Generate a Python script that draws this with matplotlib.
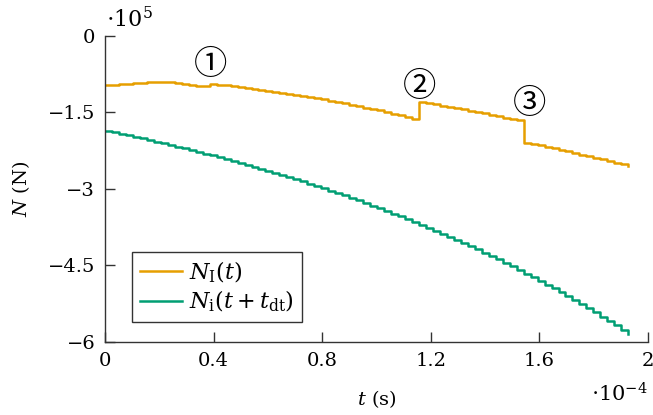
import numpy as np
import matplotlib.pyplot as plt

plt.rcParams['font.family'] = ['DejaVu Serif', 'DejaVu Sans']
plt.rcParams['mathtext.fontset'] = 'dejavuserif'
plt.rcParams['font.size'] = 14

# time grid (units of 1e-4 s), values in units of 1e5 N
dt = 0.0257
n_pts = 76
t = np.arange(n_pts) * dt

N_I = [-0.970, -0.960, -0.950, -0.940, -0.930, -0.920, -0.910, -0.903, -0.900, -0.908,
       -0.923, -0.940, -0.957, -0.973, -0.990,
       -0.940, -0.954, -0.969, -0.984, -1.000, -1.017, -1.034, -1.052, -1.071, -1.090,
       -1.110, -1.131, -1.152, -1.174, -1.197, -1.221, -1.245, -1.269, -1.295, -1.321,
       -1.347, -1.375, -1.403, -1.432, -1.461, -1.491, -1.522, -1.553, -1.585, -1.618,
       -1.290, -1.314, -1.339, -1.364, -1.389, -1.414, -1.440, -1.466, -1.492, -1.519,
       -1.546, -1.573, -1.601, -1.629, -1.657,
       -2.090, -2.118, -2.147, -2.176, -2.205, -2.234, -2.264, -2.294, -2.324, -2.355,
       -2.386, -2.417, -2.449, -2.481, -2.513, -2.546]

N_i = [-1.860, -1.889, -1.918, -1.948, -1.978, -2.009, -2.040, -2.071, -2.103, -2.135,
       -2.168, -2.202, -2.235, -2.270, -2.305, -2.340, -2.376, -2.412, -2.449, -2.487,
       -2.525, -2.564, -2.603, -2.643, -2.684, -2.725, -2.767, -2.810, -2.853, -2.897,
       -2.942, -2.987, -3.033, -3.080, -3.127, -3.175, -3.225, -3.274, -3.325, -3.376,
       -3.428, -3.481, -3.535, -3.590, -3.645, -3.702, -3.759, -3.817, -3.876, -3.936,
       -3.997, -4.058, -4.121, -4.185, -4.249, -4.315, -4.381, -4.449, -4.517, -4.587,
       -4.657, -4.729, -4.801, -4.875, -4.950, -5.026, -5.103, -5.181, -5.260, -5.340,
       -5.421, -5.504, -5.587, -5.672, -5.758, -5.845]

marks = ['\u2460', '\u2461', '\u2462']
mark_t = [0.387, 1.157, 1.565]
mark_N = [-0.55, -1.0, -1.32]

xticks = [0, 0.4, 0.8, 1.2, 1.6, 2]
xtick_labels = ['0', '0.4', '0.8', '1.2', '1.6', '2']
yticks = [0, -1.5, -3, -4.5, -6]
ytick_labels = ['0', '\u22121.5', '\u22123', '\u22124.5', '\u22126']

orange = '#E69F00'
green = '#009E73'

fig = plt.figure(figsize=(6.53, 4.15), dpi=100)
ax = fig.add_axes([0.1608, 0.1759, 0.8315, 0.7374])

ax.plot(t, N_I, drawstyle='steps-post', color=orange, lw=1.8,
        label=r'$N_{\mathrm{I}}(t)$')
ax.plot(t, N_i, drawstyle='steps-post', color=green, lw=1.8,
        label=r'$N_{\mathrm{i}}(t + t_{\mathrm{dt}})$')

for m, mx, my in zip(marks, mark_t, mark_N):
    ax.text(mx, my, m, ha='center', va='center', fontsize=24,
            family=['Noto Sans CJK JP', 'DejaVu Sans'])

ax.set_xlim(0, 2)
ax.set_ylim(-6, 0)
ax.set_xticks(xticks)
ax.set_xticklabels(xtick_labels)
ax.set_yticks(yticks)
ax.set_yticklabels(ytick_labels)

for s in ['top', 'right']:
    ax.spines[s].set_visible(False)
for s in ['left', 'bottom']:
    ax.spines[s].set_color('#333333')
    ax.spines[s].set_linewidth(1.0)
ax.tick_params(direction='in', length=7, width=1.0, color='#333333', pad=7)

ax.set_xlabel(r'$t$ (s)')
ax.set_ylabel(r'$N$ (N)')
ax.xaxis.set_label_coords(0.5, -0.15)
ax.yaxis.set_label_coords(-0.135, 0.5)

ax.text(0.002, 1.03, r'$\cdot 10^{5}$', transform=ax.transAxes,
        ha='left', va='baseline', fontsize=16)
ax.text(1.0, -0.196, r'$\cdot 10^{-4}$', transform=ax.transAxes,
        ha='right', va='baseline', fontsize=15)

leg = ax.legend(loc='lower left', bbox_to_anchor=(0.05, 0.065), fancybox=False,
                edgecolor='#333333', framealpha=1, handlelength=1.9,
                borderaxespad=0, labelspacing=0.2, handletextpad=0.3,
                borderpad=0.35, fontsize=16)
leg.get_frame().set_linewidth(1.0)

fig.savefig('out.png', dpi=100)
